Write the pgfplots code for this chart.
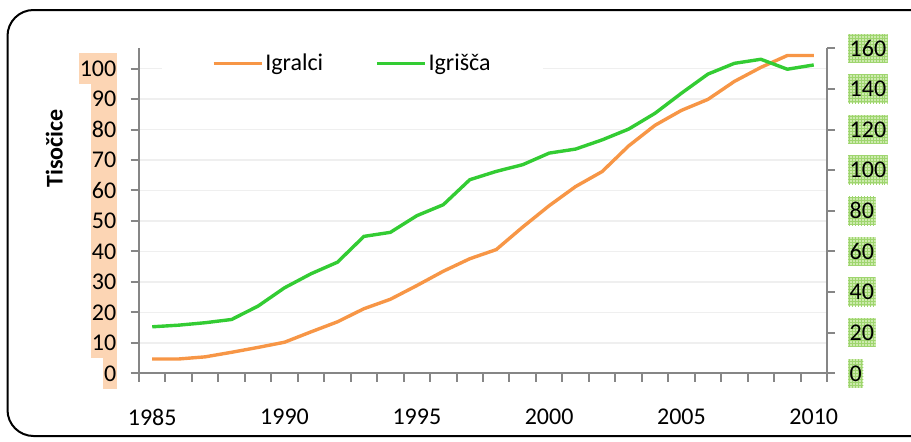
\documentclass[border=0pt]{standalone}
\usepackage{pgfplots}
\pgfplotsset{compat=1.18}
\usepackage{fontspec}
\setmainfont{Carlito}
\usetikzlibrary{patterns}
\definecolor{orng}{HTML}{F79646}
\definecolor{grn}{HTML}{33CC33}
\definecolor{peach}{HTML}{FCD5B4}
\definecolor{lgrn}{HTML}{CDEAAE}
\definecolor{hgrn}{HTML}{9ED56E}
\definecolor{axgray}{HTML}{868686}
\definecolor{gridc}{HTML}{EFEFEF}
\newcommand{\fs}{\fontsize{24bp}{28bp}\selectfont}

\pgfplotstableread{
year igralci igrisca
1985 4.7 22.9
1986 4.7 23.7
1987 5.4 24.9
1988 6.9 26.5
1989 8.5 33.1
1990 10.2 42.1
1991 13.6 49.0
1992 16.9 54.7
1993 21.2 67.4
1994 24.3 69.4
1995 28.8 77.6
1996 33.5 83.0
1997 37.6 95.3
1998 40.6 99.4
1999 48.0 102.7
2000 55.0 108.4
2001 61.3 110.4
2002 66.2 114.9
2003 74.6 120.2
2004 81.4 128.0
2005 86.3 137.9
2006 89.9 147.3
2007 95.8 152.6
2008 100.4 154.6
2009 104.3 149.7
2010 104.3 151.8
}\datatable

\begin{document}
\begin{tikzpicture}
\useasboundingbox (0,0) rectangle (911bp,-442bp);
\begin{scope}
\clip (0,0) rectangle (911bp,-442bp);
\draw[line width=2bp, rounded corners=26bp] (7.5bp,-10bp) rectangle (950bp,-436bp);

\begin{axis}[
  at={(139bp,-373.3bp)}, anchor=south west,
  scale only axis, width=688bp, height=325bp,
  xmin=1984.5, xmax=2010.5, ymin=0, ymax=106.6667,
  axis x line*=bottom, axis y line*=left,
  axis line style={axgray, line width=2bp, -},
  xtick={1984.5,1985.5,...,2010.5},
  xticklabels={1985,,,,,1990,,,,,1995,,,,,2000,,,,,2005,,,,,2010,},
  ytick={0,10,...,100},
  tick align=outside,
  major tick length=8.5bp,
  tick style={axgray, line width=2bp},
  ymajorgrids, major grid style={gridc, line width=1.5bp},
  /pgf/number format/assume math mode=true,
  xticklabel style={font=\fs, anchor=north, inner sep=0pt, xshift=13.23bp, yshift=-27bp},
  yticklabel style={font=\fs, anchor=east, fill=peach, inner xsep=1bp, inner ysep=0pt, minimum height=30.6bp, xshift=-13bp},
  ylabel={\bfseries Tisočice},
  every axis y label/.style={at={(axis description cs:-0.1109,0.6917)}, rotate=90, anchor=base, font=\fs},
  legend columns=2,
  legend image code/.code={\draw[#1] (0bp,0bp) -- (48bp,0bp);},
  legend style={at={(0.31,0.954)}, anchor=center, draw=none, fill=white, font=\fs,
    inner xsep=50bp, inner ysep=2bp,
    /tikz/every even column/.append style={column sep=50bp}},
]
\addplot[orng, line width=3.4bp] table[x=year, y=igralci] {\datatable};
\addlegendentry{Igralci}
\addlegendimage{grn, line width=3.4bp}
\addlegendentry{Igrišča}
\end{axis}

\begin{axis}[
  at={(139bp,-373.3bp)}, anchor=south west,
  scale only axis, width=688bp, height=325bp,
  xmin=1984.5, xmax=2010.5, ymin=0, ymax=160,
  axis x line=none, axis y line*=right,
  axis line style={axgray, line width=2bp, -},
  ytick={0,20,...,160},
  tick align=outside,
  major tick length=8bp,
  tick style={axgray, line width=2bp},
  /pgf/number format/assume math mode=true,
  yticklabel style={font=\fs, anchor=west, preaction={fill=lgrn}, pattern=grid, pattern color=hgrn,
    inner xsep=1.5bp, inner ysep=0pt, minimum height=28.6bp, xshift=13bp},
]
\addplot[grn, line width=3.4bp] table[x=year, y=igrisca] {\datatable};
\end{axis}
\end{scope}
\end{tikzpicture}
\end{document}
